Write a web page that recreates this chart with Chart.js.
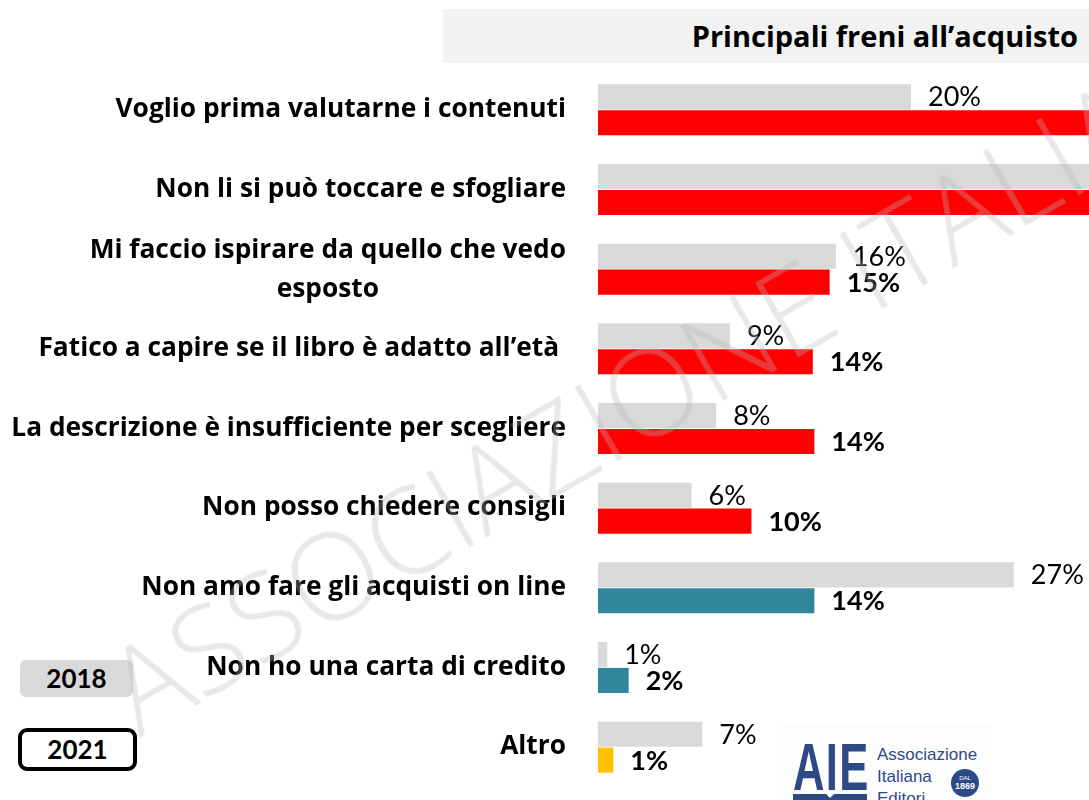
<!DOCTYPE html>
<html>
<head>
<meta charset="utf-8">
<script src="https://cdn.jsdelivr.net/npm/chart.js@4.4.1/dist/chart.umd.min.js"></script>
<style>
html,body{margin:0;padding:0;background:#fff;}
#wrap{position:relative;width:1089px;height:800px;overflow:hidden;font-family:Lato,"Open Sans",sans-serif;}
#c{position:absolute;left:0;top:0;}
#title{position:absolute;left:443px;top:9px;width:646px;height:54px;background:#f2f2f2;box-sizing:border-box;padding-right:11px;text-align:right;font-family:"Open Sans",sans-serif;font-weight:bold;font-size:29px;line-height:54px;color:#000;white-space:nowrap;}
.leg{position:absolute;box-sizing:border-box;text-align:center;font-weight:bold;font-size:26px;color:#000;}
#l18{left:20px;top:660px;width:113px;height:37px;line-height:37px;background:#d9d9d9;border-radius:6px;}
#l21{left:18px;top:728px;width:119px;height:43px;line-height:35px;background:#fff;border:4px solid #000;border-radius:9px;}
#logo{position:absolute;left:782px;top:724px;width:210px;height:76px;background:#fdfdfd;}
#aie{position:absolute;left:11px;top:10px;font-family:"Liberation Sans",Arial,sans-serif;font-weight:bold;font-size:66px;line-height:66px;color:#2d4a85;transform:scaleX(0.66);transform-origin:0 0;letter-spacing:2px;}
#book{position:absolute;left:11px;top:70px;width:74px;height:8px;background:#2d4a85;}
#book:after{content:"";position:absolute;left:33px;top:0;border-left:4px solid transparent;border-right:4px solid transparent;border-top:4px solid #fdfdfd;}
#aiet{position:absolute;left:95px;top:20px;font-family:"Liberation Sans",Arial,sans-serif;font-size:17px;line-height:22px;color:#2d4a85;}
#dal{position:absolute;left:169px;top:45px;width:28px;height:28px;border-radius:50%;background:#2d4a85;color:#fff;text-align:center;font-family:"Liberation Sans",Arial,sans-serif;}
#dal .a{position:absolute;left:0;width:28px;top:6px;font-size:6px;line-height:6px;}
#dal .b{position:absolute;left:0;width:28px;top:13px;font-size:9px;line-height:9px;font-weight:bold;}
#wm{position:absolute;left:146px;top:630px;height:120px;font-family:"Open Sans",sans-serif;font-weight:300;font-size:120px;line-height:120px;color:rgba(185,185,185,0.32);white-space:nowrap;transform:rotate(-30deg);transform-origin:0 100%;pointer-events:none;}
</style>
</head>
<body>
<div id="wrap">
  <canvas id="c" width="1089" height="800"></canvas>
  <div id="title">Principali freni all’acquisto</div>
  <div class="leg" id="l18">2018</div>
  <div class="leg" id="l21">2021</div>
  <div id="logo">
    <div id="aie">AIE</div>
    <div id="book"></div>
    <div id="aiet">Associazione<br>Italiana<br>Editori</div>
    <div id="dal"><div class="a">DAL</div><div class="b">1869</div></div>
  </div>
  <div id="wm">ASSOCIAZIONE ITALIANA EDITORI</div>
</div>
<script>
// ---- data ----
const categories = [
  "Voglio prima valutarne i contenuti",
  "Non li si può toccare e sfogliare",
  ["Mi faccio ispirare da quello che vedo", "esposto"],
  "Fatico a capire se il libro è adatto all’età ",
  "La descrizione è insufficiente per scegliere",
  "Non posso chiedere consigli",
  "Non amo fare gli acquisti on line",
  "Non ho una carta di credito",
  "Altro"
];
const seriesNames = ["2018", "2021"];
const values2018 = [20.4, 34.0, 15.5, 8.6, 7.7, 6.1, 27.1, 0.6, 6.8];
const values2021 = [36.0, 38.0, 15.1, 14.0, 14.1, 10.0, 14.1, 2.0, 1.0];
const colors2021 = ["#ff0000","#ff0000","#ff0000","#ff0000","#ff0000","#ff0000","#31859c","#31859c","#ffc000"];
const color2018 = "#d9d9d9";
const xMax = 32;

const FONT = "Lato, 'Open Sans', sans-serif";
const CAT_FONT = "bold 26.3px 'Open Sans', sans-serif";
const labelRight = 566;

const labelPlugin = {
  id: "customLabels",
  afterDatasetsDraw(chart) {
    const ctx = chart.ctx;
    const yScale = chart.scales.y;
    ctx.save();
    ctx.fillStyle = "#000";
    ctx.textBaseline = "alphabetic";
    ctx.font = CAT_FONT;
    categories.forEach((lab, i) => {
      const yc = yScale.getPixelForValue(i);
      const lines = Array.isArray(lab) ? lab : [lab];
      if (lines.length === 1) {
        ctx.textAlign = "right";
        ctx.fillText(lines[0], labelRight, yc + 7);
      } else {
        const w = Math.max(...lines.map(l => ctx.measureText(l).width));
        const cx = labelRight - w / 2;
        ctx.textAlign = "center";
        lines.forEach((l, k) => ctx.fillText(l, cx, yc + 8 + (k - (lines.length - 1) / 2) * 39));
      }
    });
    ctx.textAlign = "left";
    chart.data.datasets.forEach((ds, di) => {
      const meta = chart.getDatasetMeta(di);
      ctx.font = (di === 0 ? "" : "bold ") + "27px " + FONT;
      meta.data.forEach((bar, i) => {
        const txt = Math.round(ds.data[i]) + "%";
        ctx.fillText(txt, bar.x + 17, bar.y + 9.5);
      });
    });
    ctx.restore();
  }
};

new Chart(document.getElementById("c"), {
  type: "bar",
  data: {
    labels: categories,
    datasets: [
      { label: seriesNames[0], data: values2018, backgroundColor: color2018, categoryPercentage: 0.65, barPercentage: 0.97 },
      { label: seriesNames[1], data: values2021, backgroundColor: colors2021, categoryPercentage: 0.65, barPercentage: 0.97 }
    ]
  },
  options: {
    indexAxis: "y",
    responsive: false,
    animation: false,
    layout: { padding: { left: 598, right: 0, top: 70, bottom: 13 } },
    plugins: { legend: { display: false }, tooltip: { enabled: false } },
    scales: {
      x: { display: false, min: 0, max: xMax, grid: { display: false } },
      y: { display: false, grid: { display: false } }
    }
  },
  plugins: [labelPlugin]
});
</script>
</body>
</html>
